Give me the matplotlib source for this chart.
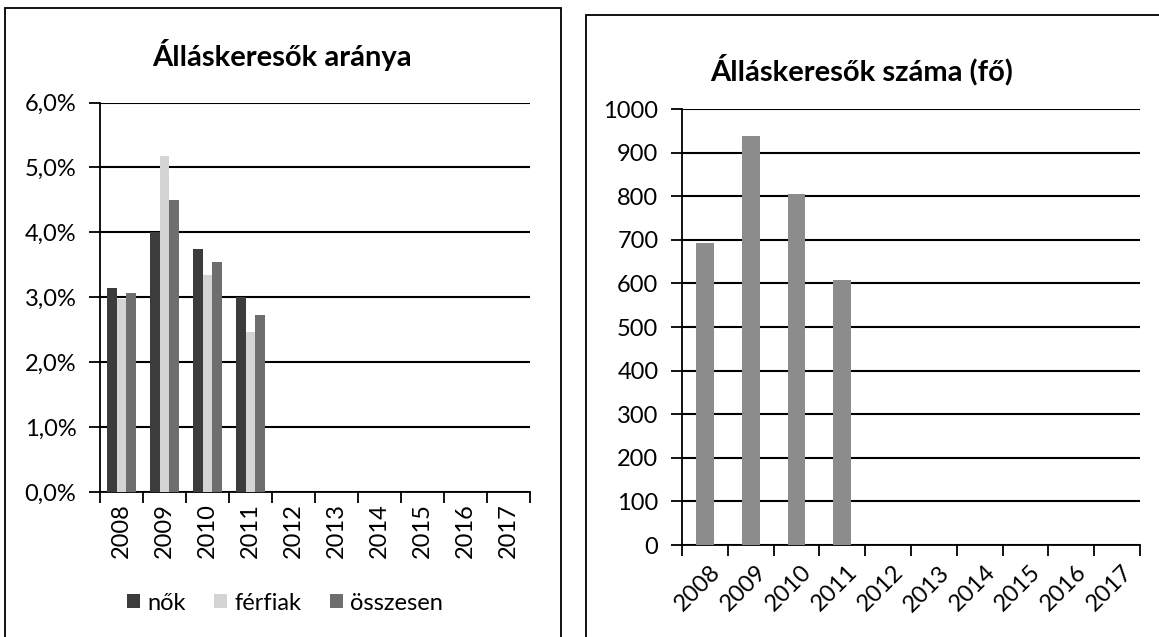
import numpy as np
import matplotlib
matplotlib.use("Agg")
import matplotlib.pyplot as plt
from matplotlib.patches import Rectangle
from matplotlib.ticker import FuncFormatter, MultipleLocator

plt.rcParams['font.family'] = ['Lato', 'DejaVu Sans']

years = ['2008', '2009', '2010', '2011', '2012', '2013', '2014', '2015', '2016', '2017']

# Álláskeresők aránya (%)
nok = [3.15, 4.0, 3.74, 3.0]
ferfiak = [2.98, 5.18, 3.34, 2.46]
osszesen = [3.06, 4.5, 3.54, 2.73]

# Álláskeresők száma (fő)
letszam = [692, 937, 805, 607]

W, H = 1159, 637
fig = plt.figure(figsize=(W / 100, H / 100), dpi=100)


def fx(px):
    return px / W


def fy(py):
    return 1 - py / H


# panel frames
fig.patches.append(Rectangle((fx(5), fy(645)), fx(561 - 5), (645 - 8) / H,
                             transform=fig.transFigure, fill=False, lw=1.3, ec='black'))
fig.patches.append(Rectangle((fx(586), fy(645)), fx(1170 - 586), (645 - 15) / H,
                             transform=fig.transFigure, fill=False, lw=1.3, ec='black'))


def style_axes(ax, n):
    for s in ['top', 'right']:
        ax.spines[s].set_visible(False)
    for s in ['left', 'bottom']:
        ax.spines[s].set_color('black')
        ax.spines[s].set_linewidth(1.3)
    ax.set_xlim(-0.5, n - 0.5)
    ax.set_xticks(np.arange(n + 1) - 0.5)
    ax.set_xticklabels([])
    ax.tick_params(axis='x', which='major', length=8, width=1.3, direction='out')
    ax.tick_params(axis='x', which='minor', length=0)
    ax.tick_params(axis='y', length=8, width=1.3, direction='out', labelsize=17, pad=9)
    ax.yaxis.grid(True, color='black', lw=1.5)
    ax.set_axisbelow(True)


# left chart
ax1 = fig.add_axes([fx(100), fy(492), fx(530 - 100), (492 - 102.5) / H])
n = len(years)
x = np.arange(len(nok))
bw = 0.22
ax1.bar(x - bw, nok, bw, color='#3c3c3c', label='nők', zorder=3)
ax1.bar(x, ferfiak, bw, color='#d4d4d4', label='férfiak', zorder=3)
ax1.bar(x + bw, osszesen, bw, color='#6e6e6e', label='összesen', zorder=3)
style_axes(ax1, n)
ax1.set_ylim(0, 6)
ax1.yaxis.set_major_locator(MultipleLocator(1))
ax1.yaxis.set_major_formatter(FuncFormatter(lambda v, p: f"{v:.1f}%".replace('.', ',')))
ax1.set_xticks(np.arange(n), years, minor=True, rotation=90, fontsize=17)
ax1.tick_params(axis='x', which='minor', pad=8)
fig.text(fx(282), fy(55), 'Álláskeresők aránya', ha='center', va='center',
         fontsize=21, fontweight='bold')
fig.legend(loc='center', bbox_to_anchor=(fx(285), fy(603)), ncol=3, frameon=False,
           fontsize=17, handlelength=0.55, handleheight=0.55, handletextpad=0.3,
           columnspacing=1.2)

# right chart
ax2 = fig.add_axes([fx(682), fy(545), fx(1140 - 682), (545 - 109) / H])
x2 = np.arange(len(letszam))
ax2.bar(x2, letszam, 0.39, color='#8c8c8c', zorder=3)
style_axes(ax2, n)
ax2.set_ylim(0, 1000)
ax2.yaxis.set_major_locator(MultipleLocator(100))
ax2.set_xticks(np.arange(n) + 0.1, years, minor=True, rotation=45, ha='right',
               rotation_mode='anchor', fontsize=17)
ax2.tick_params(axis='x', which='minor', pad=12)
fig.text(fx(862), fy(70), 'Álláskeresők száma (fő)', ha='center', va='center',
         fontsize=21, fontweight='bold')

fig.savefig('out.png', dpi=100)
